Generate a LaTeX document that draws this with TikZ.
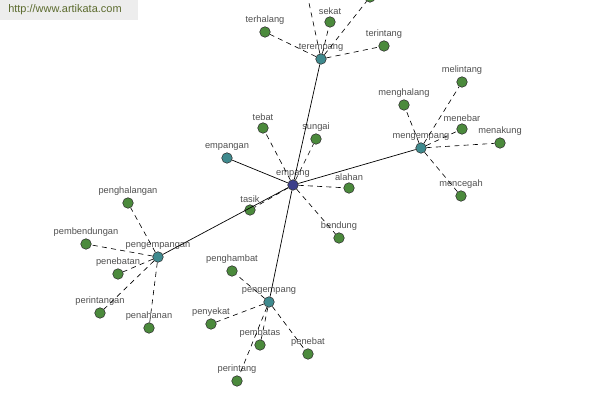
\documentclass[tikz,border=0pt]{standalone}
\usepackage{fontspec}
\setmainfont{Liberation Sans}
\usepackage{tikz}
\usetikzlibrary{positioning}

\definecolor{leafgreen}{HTML}{4B8A3C}
\definecolor{hubteal}{HTML}{3F8A8E}
\definecolor{rootnavy}{HTML}{3C3F8A}
\definecolor{labgray}{HTML}{505050}
\definecolor{markgreen}{HTML}{5C6B2E}

\tikzset{
  word/.style={circle, draw=black!80, line width=0.4pt, minimum size=7.5pt, inner sep=0pt},
  leaf/.style={word, fill=leafgreen},
  hub/.style={word, fill=hubteal},
  root/.style={word, fill=rootnavy},
  lab/.style={font=\fontsize{6.6}{7}\selectfont, text=labgray, inner sep=1pt},
  every label/.style={lab},
  label distance=0.3pt,
  strong/.style={draw=black, line width=0.5pt},
  weak/.style={draw=black, line width=0.45pt, dash pattern=on 3.6pt off 3pt}
}

\begin{document}
\begin{tikzpicture}[x=0.025cm, y=-0.025cm]
            \useasboundingbox (0,0) rectangle (600,400);
            \clip (0,0) rectangle (600,400);
            % centre word
            \node[root, label=above:empang] (empang) at (293,185) {};
            % hubs
            \node[hub, label=above:terempang] (terempang) at (321,59) {};
            \node[hub, label=above:mengempang] (mengempang) at (421,148) {};
            \node[hub, label=above:empangan] (empangan) at (227,158) {};
            \node[hub, label=above:pengempangan] (pengempangan) at (158,257) {};
            \node[hub, label=above:pengempang] (pengempang) at (269,302) {};
            % leaves of empang
            \node[leaf, label=above:tebat] (tebat) at (263,128) {};
            \node[leaf, label=above:sungai] (sungai) at (316,139) {};
            \node[leaf, label=above:alahan] (alahan) at (349,188) {};
            \node[leaf, label=above:bendung] (bendung) at (339,238) {};
            \node[leaf, label=above:tasik] (tasik) at (250,210) {};
            % leaves of terempang
            \node[leaf, label=above:terhalang] (terhalang) at (265,32) {};
            \node[leaf, label=above:sekat] (sekat) at (330,22) {};
            \node[leaf, label=above:terintang] (terintang) at (384,46) {};
            \node[leaf] (topright) at (370,-3) {};
            \node[leaf] (topleft) at (303,-25) {};
            % leaves of mengempang
            \node[leaf, label=above:menghalang] (menghalang) at (404,105) {};
            \node[leaf, label=above:melintang] (melintang) at (462,82) {};
            \node[leaf, label=above:menebar] (menebar) at (462,129) {};
            \node[leaf, label=above:menakung] (menakung) at (500,143) {};
            \node[leaf, label=above:mencegah] (mencegah) at (461,196) {};
            % leaves of pengempangan
            \node[leaf, label=above:penghalangan] (penghalangan) at (128,203) {};
            \node[leaf, label=above:pembendungan] (pembendungan) at (86,244) {};
            \node[leaf, label=above:penebatan] (penebatan) at (118,274) {};
            \node[leaf, label=above:perintangan] (perintangan) at (100,313) {};
            \node[leaf, label=above:penahanan] (penahanan) at (149,328) {};
            % leaves of pengempang
            \node[leaf, label=above:penghambat] (penghambat) at (232,271) {};
            \node[leaf, label=above:penyekat] (penyekat) at (211,324) {};
            \node[leaf, label=above:pembatas] (pembatas) at (260,345) {};
            \node[leaf, label=above:penebat] (penebat) at (308,354) {};
            \node[leaf, label=above:perintang] (perintang) at (237,381) {};
            % links
            \draw[strong] (empang)--(terempang);
            \draw[strong] (empang)--(mengempang);
            \draw[strong] (empang)--(empangan);
            \draw[strong] (empang)--(pengempangan);
            \draw[strong] (empang)--(pengempang);
            \foreach \w in {tebat, sungai, alahan, bendung, tasik}
              \draw[weak] (empang)--(\w);
            \foreach \w in {terhalang, sekat, terintang, topright, topleft}
              \draw[weak] (terempang)--(\w);
            \foreach \w in {menghalang, melintang, menebar, menakung, mencegah}
              \draw[weak] (mengempang)--(\w);
            \foreach \w in {penghalangan, pembendungan, penebatan, perintangan, penahanan}
              \draw[weak] (pengempangan)--(\w);
            \foreach \w in {penghambat, penyekat, pembatas, penebat, perintang}
              \draw[weak] (pengempang)--(\w);
            % site mark
            \fill[black!7] (0,0) rectangle (138,20);
            \node[text=markgreen, font=\fontsize{7.8}{9}\selectfont, anchor=west, inner sep=0pt]
                  (site) at (8,10) {http://www.artikata.com};
        \end{tikzpicture}
\end{document}
